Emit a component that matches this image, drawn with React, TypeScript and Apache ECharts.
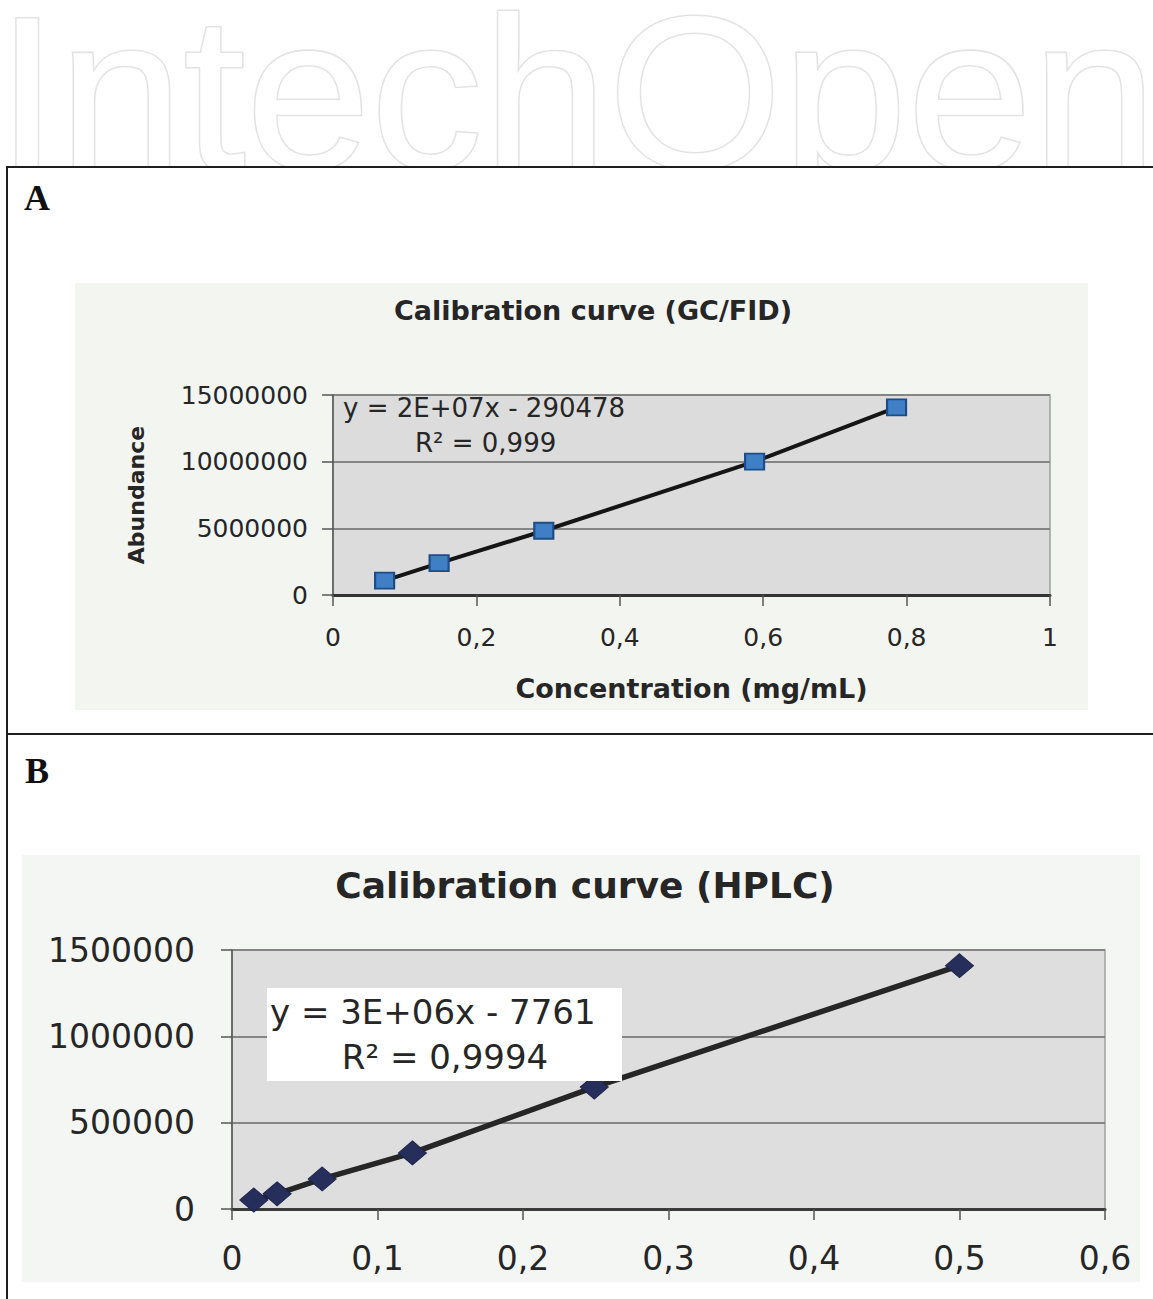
import React, { useEffect, useRef } from "react";
import * as echarts from "echarts";

// Panel A – GC/FID calibration
const A_CONC = [0.072, 0.148, 0.294, 0.588, 0.786];
const A_ABUND = [1080000, 2390000, 4820000, 10000000, 14070000];
const A_X_RANGE = [0, 1, 0.2];
const A_Y_RANGE = [0, 15000000, 5000000];
const A_TITLE = "Calibration curve (GC/FID)";
const A_EQ = ["y = 2E+07x - 290478", "R² = 0,999"];

// Panel B – HPLC calibration
const B_CONC = [0.015, 0.031, 0.062, 0.124, 0.249, 0.5];
const B_AREA = [52000, 88000, 174000, 325000, 706000, 1409000];
const B_X_RANGE = [0, 0.6, 0.1];
const B_Y_RANGE = [0, 1500000, 500000];
const B_TITLE = "Calibration curve (HPLC)";
const B_EQ = ["y = 3E+06x - 7761", "R² = 0,9994"];

const FONT = "DejaVu Sans";
const TXT = "#262626";

const commaFmt = (v: number) => parseFloat(v.toFixed(1)).toString().replace(".", ",");

export default function App() {
  const ref = useRef<HTMLDivElement>(null);
  useEffect(() => {
    if (!ref.current) return;
    const chart = echarts.init(ref.current, null, { renderer: "svg" });
    const axisCommon = (fs: number, margin: number, fmt?: (v: number) => string) => ({
      type: "value" as const,
      axisLine: { show: true, onZero: false, lineStyle: { color: "#555", width: 1.5 } },
      axisTick: { show: true, length: 11, lineStyle: { color: "#555", width: 1.5 } },
      axisLabel: { margin, fontFamily: FONT, fontSize: fs, color: TXT, formatter: fmt },
    });
    chart.setOption({
      animation: false,
      backgroundColor: "#ffffff",
      grid: [
        { left: 333, top: 395, width: 717, height: 200, show: true, backgroundColor: "#dcdcdc", borderColor: "#a0a0a0", borderWidth: 1.5 },
        { left: 232, top: 950, width: 873, height: 259, show: true, backgroundColor: "#dedede", borderColor: "#a0a0a0", borderWidth: 1.5 },
      ],
      xAxis: [
        {
          ...axisCommon(25, 30, commaFmt),
          gridIndex: 0,
          min: A_X_RANGE[0], max: A_X_RANGE[1], interval: A_X_RANGE[2],
          axisLine: { show: true, onZero: false, lineStyle: { color: "#333", width: 3 } },
          splitLine: { show: false },
          name: "Concentration (mg/mL)",
          nameLocation: "middle",
          nameGap: 80,
          nameTextStyle: { fontFamily: FONT, fontWeight: "bold", fontSize: 27, color: TXT },
        },
        {
          ...axisCommon(33, 33, commaFmt),
          gridIndex: 1,
          min: B_X_RANGE[0], max: B_X_RANGE[1], interval: B_X_RANGE[2],
          axisLine: { show: true, onZero: false, lineStyle: { color: "#3a3a3a", width: 3 } },
          splitLine: { show: false },
        },
      ],
      yAxis: [
        {
          ...axisCommon(25, 25, (v: number) => String(v)),
          gridIndex: 0,
          min: A_Y_RANGE[0], max: A_Y_RANGE[1], interval: A_Y_RANGE[2],
          splitLine: { show: true, lineStyle: { color: "#858585", width: 2 } },
          name: "Abundance",
          nameLocation: "middle",
          nameGap: 186,
          nameTextStyle: { fontFamily: FONT, fontWeight: "bold", fontSize: 22, color: TXT },
        },
        {
          ...axisCommon(33, 37, (v: number) => String(v)),
          gridIndex: 1,
          min: B_Y_RANGE[0], max: B_Y_RANGE[1], interval: B_Y_RANGE[2],
          splitLine: { show: true, lineStyle: { color: "#858585", width: 2 } },
        },
      ],
      series: [
        {
          type: "line",
          xAxisIndex: 0,
          yAxisIndex: 0,
          data: A_CONC.map((x, i) => [x, A_ABUND[i]]),
          lineStyle: { color: "#151515", width: 4 },
          symbol: "rect",
          symbolSize: [19, 16],
          itemStyle: { color: "#3f7fc6", borderColor: "#1d4c86", borderWidth: 2 },
          z: 3,
        },
        {
          type: "line",
          xAxisIndex: 1,
          yAxisIndex: 1,
          data: B_CONC.map((x, i) => [x, B_AREA[i]]),
          lineStyle: { color: "#262626", width: 5.5 },
          symbol: "diamond",
          symbolSize: [28, 24],
          itemStyle: { color: "#262f5c", borderColor: "#1c2347", borderWidth: 1 },
          z: 3,
        },
      ],
      graphic: [
        // watermark
        {
          type: "text", x: -4, y: 93, z: -9, scaleX: 1.03,
          style: { text: "IntechOpen", font: '218px "Liberation Sans"', lineHeight: 170, fill: "#ffffff", stroke: "#e3e3e3", lineWidth: 3, align: "left", verticalAlign: "middle" },
        },
        { type: "rect", z: -8, shape: { x: 0, y: 167, width: 1153, height: 1132 }, style: { fill: "#ffffff" } },
        // chart area backgrounds
        { type: "rect", z: -7, shape: { x: 75, y: 283, width: 1013, height: 427 }, style: { fill: "#f3f5f1" } },
        { type: "rect", z: -7, shape: { x: 22, y: 855, width: 1118, height: 427 }, style: { fill: "#f4f6f3" } },
        // frame
        { type: "line", z: 50, shape: { x1: 6, y1: 167, x2: 1153, y2: 167 }, style: { stroke: "#1e1e1e", lineWidth: 2 } },
        { type: "line", z: 50, shape: { x1: 7, y1: 167, x2: 7, y2: 1299 }, style: { stroke: "#1e1e1e", lineWidth: 2 } },
        { type: "line", z: 50, shape: { x1: 6, y1: 734, x2: 1153, y2: 734 }, style: { stroke: "#1e1e1e", lineWidth: 2 } },
        // panel letters
        { type: "text", z: 50, x: 24, y: 198, style: { text: "A", font: 'bold 36px "Liberation Serif"', fill: "#111", align: "left", verticalAlign: "middle" } },
        { type: "text", z: 50, x: 25, y: 771, style: { text: "B", font: 'bold 36px "Liberation Serif"', fill: "#111", align: "left", verticalAlign: "middle" } },
        // titles
        { type: "text", z: 50, x: 593, y: 310, style: { text: A_TITLE, font: `bold 27px "${FONT}"`, fill: TXT, align: "center", verticalAlign: "middle" } },
        { type: "text", z: 50, x: 585, y: 885, style: { text: B_TITLE, font: `bold 36px "${FONT}"`, fill: TXT, align: "center", verticalAlign: "middle" } },
        // equation A
        { type: "text", z: 50, x: 343, y: 408, style: { text: A_EQ[0], font: `26px "${FONT}"`, fill: TXT, align: "left", verticalAlign: "middle" } },
        { type: "text", z: 50, x: 415, y: 443, style: { text: A_EQ[1], font: `26px "${FONT}"`, fill: TXT, align: "left", verticalAlign: "middle" } },
        // equation B
        { type: "rect", z: 10, shape: { x: 267, y: 988, width: 355, height: 93 }, style: { fill: "#ffffff" } },
        { type: "text", z: 50, x: 270, y: 1012, style: { text: B_EQ[0], font: `34px "${FONT}"`, fill: TXT, align: "left", verticalAlign: "middle" } },
        { type: "text", z: 50, x: 445, y: 1057, style: { text: B_EQ[1], font: `34px "${FONT}"`, fill: TXT, align: "center", verticalAlign: "middle" } },
      ],
    });
    return () => chart.dispose();
  }, []);
  return <div ref={ref} style={{ position: "fixed", left: 0, top: 0, width: 1153, height: 1299 }} />;
}
